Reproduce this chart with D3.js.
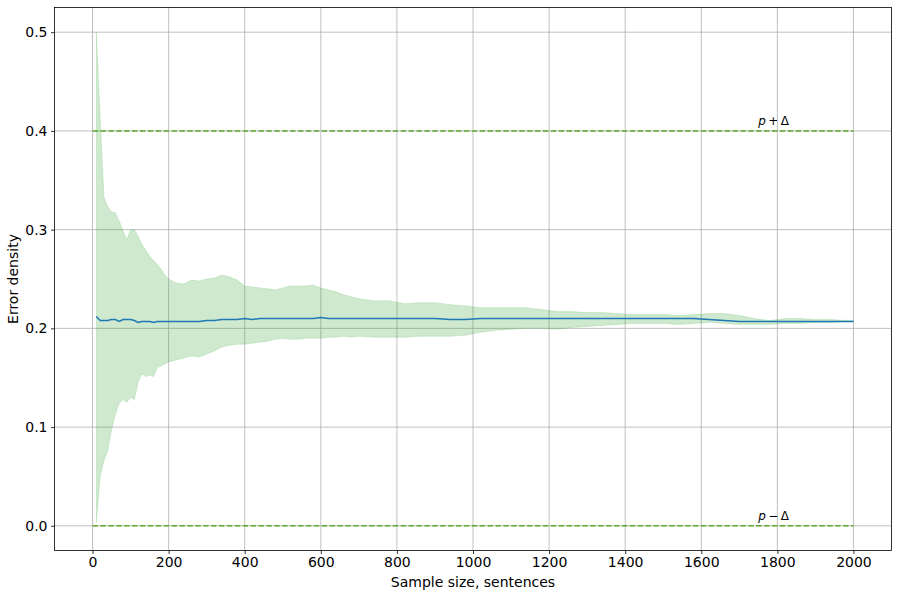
<!DOCTYPE html>
<html><head><meta charset="utf-8">
<script src="https://cdn.jsdelivr.net/npm/d3@7"></script>
<style>body{margin:0;background:#fff;} text{font-family:"DejaVu Sans",sans-serif;}</style>
</head><body>
<svg id="chart" width="898" height="597"></svg>
<script>
const sampleSizes = [10,20,30,40,50,60,70,80,90,100,110,120,130,140,150,160,170,180,190,200,
  220,240,260,280,300,320,340,360,380,400,420,440,460,480,500,520,540,560,580,600,620,640,660,680,700,
  740,780,820,860,900,940,980,1020,1060,1100,1140,1180,1220,1260,1300,1340,1380,1420,1460,1500,
  1540,1580,1620,1660,1700,1740,1780,1820,1860,1900,1940,1980,2000];
const upperBound = [0.500,0.414,0.333,0.323,0.318,0.317,0.309,0.299,0.290,0.300,0.300,0.293,0.285,0.279,0.273,0.269,0.265,0.260,0.254,0.250,
  0.246,0.245,0.249,0.248,0.250,0.251,0.254,0.252,0.249,0.243,0.242,0.241,0.240,0.239,0.241,0.243,0.243,0.243,0.244,0.241,0.239,0.237,0.234,0.232,0.230,
  0.228,0.228,0.225,0.226,0.226,0.224,0.223,0.221,0.221,0.221,0.221,0.219,0.217,0.217,0.216,0.216,0.215,0.214,0.214,0.214,
  0.213,0.214,0.215,0.215,0.213,0.210,0.208,0.210,0.210,0.209,0.209,0.208,0.208];
const lowerBound = [0.003,0.050,0.066,0.076,0.097,0.113,0.124,0.128,0.125,0.130,0.128,0.146,0.154,0.151,0.153,0.151,0.160,0.162,0.164,0.166,
  0.168,0.170,0.172,0.171,0.174,0.177,0.181,0.183,0.184,0.184,0.185,0.186,0.187,0.189,0.190,0.189,0.189,0.190,0.190,0.190,0.191,0.191,0.192,0.191,0.192,
  0.191,0.191,0.191,0.192,0.192,0.192,0.193,0.196,0.198,0.199,0.200,0.200,0.199,0.201,0.202,0.203,0.204,0.205,0.205,0.205,
  0.204,0.205,0.206,0.205,0.204,0.204,0.204,0.205,0.205,0.206,0.206,0.207,0.207];
const meanDensity = [0.212,0.208,0.208,0.208,0.209,0.209,0.207,0.209,0.209,0.209,0.208,0.206,0.207,0.207,0.207,0.206,0.207,0.207,0.207,0.207,
  0.207,0.207,0.207,0.207,0.208,0.208,0.209,0.209,0.209,0.210,0.209,0.210,0.210,0.210,0.210,0.210,0.210,0.210,0.210,0.211,0.210,0.210,0.210,0.210,0.210,
  0.210,0.210,0.210,0.210,0.210,0.209,0.209,0.210,0.210,0.210,0.210,0.210,0.210,0.210,0.210,0.210,0.210,0.210,0.210,0.210,
  0.210,0.210,0.209,0.208,0.207,0.207,0.207,0.207,0.207,0.207,0.207,0.207,0.207];
const boundLines = [{y:0.4,label:"+"},{y:0.0,label:"\u2212"}];
const boundRange = [0, 2000];
const labelX = 1750;
const xTicks = [0,200,400,600,800,1000,1200,1400,1600,1800,2000];
const yTicks = [0.0,0.1,0.2,0.3,0.4,0.5];

const svg = d3.select("#chart");
const L=54.5, R=891.5, T=7.5, B=550.5;
const x = d3.scaleLinear().domain([-100,2100]).range([L,R]);
const y = d3.scaleLinear().domain([-0.025,0.525]).range([B,T]);

const g = svg.append("g");
g.selectAll(".gx").data(xTicks).enter().append("line")
  .attr("x1",d=>x(d)).attr("x2",d=>x(d)).attr("y1",T).attr("y2",B)
  .attr("stroke","#b0b0b0").attr("stroke-width",0.8);
g.selectAll(".gy").data(yTicks).enter().append("line")
  .attr("y1",d=>y(d)).attr("y2",d=>y(d)).attr("x1",L).attr("x2",R)
  .attr("stroke","#b0b0b0").attr("stroke-width",0.8);

const pts = sampleSizes.map((s,i)=>({s, lo:lowerBound[i], hi:upperBound[i], m:meanDensity[i]}));
svg.append("path").datum(pts)
  .attr("d", d3.area().x(d=>x(d.s)).y0(d=>y(d.lo)).y1(d=>y(d.hi)))
  .attr("fill","#2ca02c").attr("fill-opacity",0.23).attr("stroke","#2ca02c").attr("stroke-opacity",0.15).attr("stroke-width",1);

boundLines.forEach(b=>{
  svg.append("line").attr("x1",x(boundRange[0])).attr("x2",x(boundRange[1]))
    .attr("y1",y(b.y)).attr("y2",y(b.y))
    .attr("stroke","#5fa82a").attr("stroke-width",1.5).attr("stroke-dasharray","5.5,2.4");
  const t = svg.append("text").attr("x",x(labelX)).attr("y",y(b.y)-6).attr("font-size",12).attr("fill","#000");
  t.append("tspan").attr("font-style","italic").text("p");
  t.append("tspan").text("\u2009"+b.label+"\u2009\u0394");
});

svg.append("path").datum(pts)
  .attr("d", d3.line().x(d=>x(d.s)).y(d=>y(d.m)))
  .attr("fill","none").attr("stroke","#1f77b4").attr("stroke-width",1.5);

const xa = svg.append("g").attr("transform",`translate(0,${B})`)
  .call(d3.axisBottom(x).tickValues(xTicks).tickSize(3.5).tickPadding(3.5).tickFormat(d3.format("d")));
const ya = svg.append("g").attr("transform",`translate(${L},0)`)
  .call(d3.axisLeft(y).tickValues(yTicks).tickSize(3.5).tickPadding(3.5).tickFormat(d3.format(".1f")));
[xa,ya].forEach(a=>{
  a.select(".domain").remove();
  a.selectAll("text").attr("font-size",14).attr("fill","#000").attr("font-family","DejaVu Sans");
  a.selectAll("line").attr("stroke","#000").attr("stroke-width",0.8);
});
svg.append("rect").attr("x",L).attr("y",T).attr("width",R-L).attr("height",B-T)
  .attr("fill","none").attr("stroke","#000").attr("stroke-width",0.8);

svg.append("text").attr("x",(L+R)/2).attr("y",587).attr("text-anchor","middle").attr("font-size",14).text("Sample size, sentences");
svg.append("text").attr("transform",`translate(18,${(T+B)/2}) rotate(-90)`).attr("text-anchor","middle").attr("font-size",14).text("Error density");
</script>
</body></html>
